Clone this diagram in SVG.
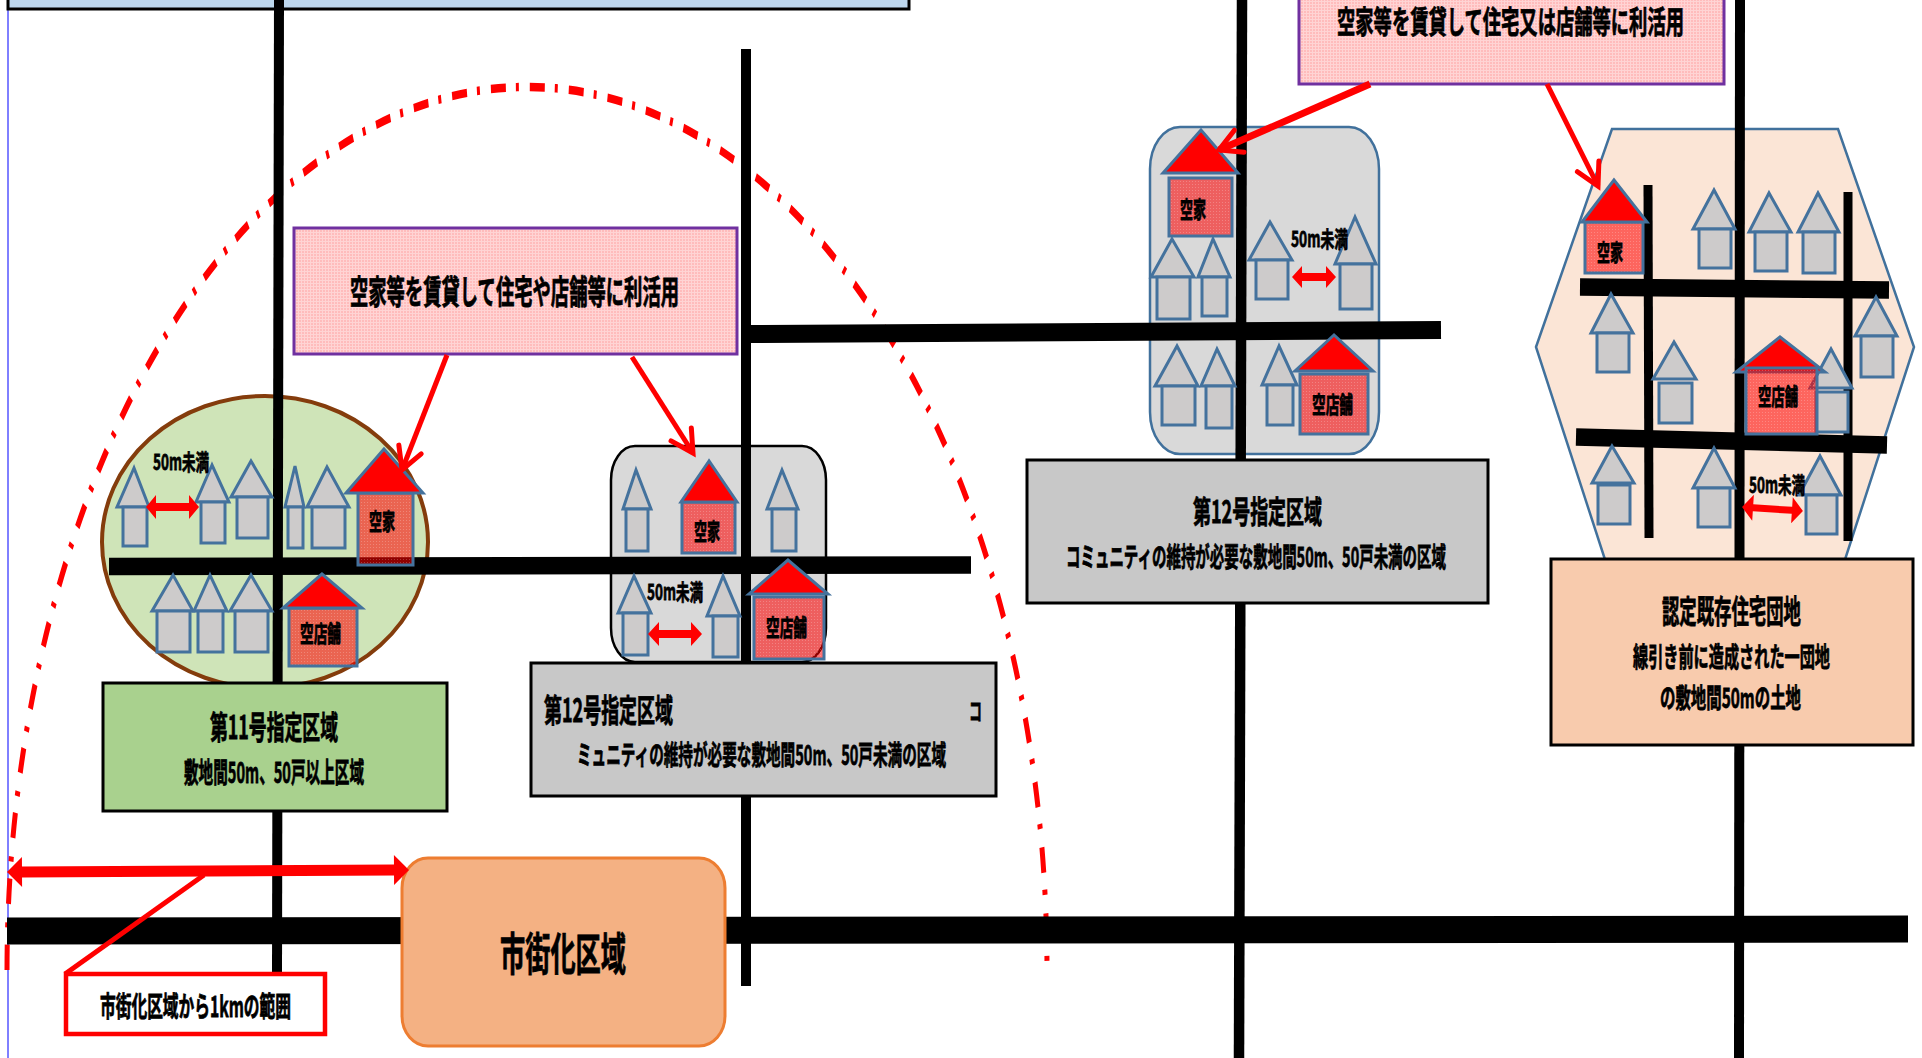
<svg xmlns="http://www.w3.org/2000/svg" width="1922" height="1058" viewBox="0 0 1922 1058">
<defs>
<style>
.road{stroke:#000;fill:none}
.roof{fill:#cdcbcb;stroke:#44729d;stroke-width:3;stroke-linejoin:miter}
.body{fill:#cdcbcb;stroke:#44729d;stroke-width:3}
.rroof{fill:#f00;stroke:#44729d;stroke-width:3}
.rbody{fill:url(#dotred);stroke:#44729d;stroke-width:3}
.pink{fill:url(#dotpink);stroke:#7030a0;stroke-width:3}
.box{stroke:#000;stroke-width:3}
.dbl{fill:#f00}
.arrow{stroke:#f00;fill:none;marker-end:url(#open)}
text{font-family:"Noto Sans CJK JP","Liberation Sans",sans-serif;font-weight:700;fill:#000;stroke:#000;stroke-width:.8}
</style>
<pattern id="dotred" width="3" height="3" patternUnits="userSpaceOnUse">
<rect width="3" height="3" fill="#f00" fill-opacity=".56"/>
<rect x="1" y="1" width="1" height="1" fill="#fff" fill-opacity=".22"/>
</pattern>
<pattern id="dotpink" width="3" height="3" patternUnits="userSpaceOnUse">
<rect width="3" height="3" fill="#ffbcbc"/>
<rect x="1" width="1" height="3" fill="#ffd4d4"/>
<rect y="1" width="3" height="1" fill="#ffd4d4"/>
</pattern>
<marker id="open" markerUnits="userSpaceOnUse" markerWidth="40" markerHeight="40" refX="30" refY="20" orient="auto" viewBox="0 0 40 40" overflow="visible">
<path d="M8 8L30 20L8 32" fill="none" stroke="#f00" stroke-width="5" stroke-linecap="round"/>
</marker>
</defs>
<rect width="1922" height="1058" fill="#fff"/>
<line x1="8" y1="0" x2="8" y2="1058" stroke="#00f" stroke-width="1"/>
<g id="top-box"><rect x="8" y="-20" width="901" height="29" fill="#bdd7ee" stroke="#000" stroke-width="3"/></g>

<g id="region-11"><ellipse cx="265" cy="542" rx="163" ry="146" fill="#cfe4b8" stroke="#843c0c" stroke-width="4"/></g>
<g id="region-12a"><rect x="611" y="446" width="215" height="216" rx="24" ry="34" fill="#d9d9d9" stroke="#000" stroke-width="2.5"/></g>
<g id="region-12b"><rect x="1150" y="127" width="229" height="327" rx="30" ry="42" fill="#d9d9d9" stroke="#41719c" stroke-width="2.5"/></g>
<g id="region-existing"><polygon points="1536,347 1612,129 1838,129 1914,347 1840,575 1610,575" fill="#fbe5d6" stroke="#41719c" stroke-width="2.5"/></g>

<g id="range-arc"><path transform="translate(527,970) scale(1,1.7)" d="M-520 0A520 520 0 0 1 519.97 -5" fill="none" stroke="#f00" stroke-width="5" stroke-dasharray="15 10 3 11"/></g>

<g id="roads">
<line class="road" stroke-width="10" x1="279" y1="0" x2="277" y2="972"/>
<line class="road" stroke-width="10" x1="746" y1="49" x2="746" y2="986"/>
<line class="road" stroke-width="10.5" x1="1242" y1="0" x2="1239" y2="1058"/>
<line class="road" stroke-width="10" x1="1740" y1="0" x2="1739" y2="1058"/>
<line class="road" stroke-width="17.5" x1="109" y1="566.500" x2="971" y2="565"/>
<line class="road" stroke-width="18" x1="748" y1="334" x2="1441" y2="330"/>
<line class="road" stroke-width="27" x1="7" y1="931" x2="1908" y2="929"/>
<line class="road" stroke-width="9" x1="1648" y1="185" x2="1649" y2="538"/>
<line class="road" stroke-width="9" x1="1848" y1="192" x2="1848" y2="541"/>
<line class="road" stroke-width="17.500" x1="1580" y1="287" x2="1889" y2="290"/>
<line class="road" stroke-width="17.500" x1="1576" y1="437" x2="1887" y2="445"/>
</g>

<g id="houses-11">
<g id="h11-1"><polygon class="roof" points="134,468 117,507 149,507"/><rect class="body" x="123" y="507" width="24" height="39"/></g>
<g id="h11-2"><polygon class="roof" points="212,465 196,502 229,502"/><rect class="body" x="201" y="502" width="24" height="41"/></g>
<g id="h11-3"><polygon class="roof" points="251,461 231,497 272,497"/><rect class="body" x="237" y="497" width="31" height="41"/></g>
<g id="h11-4"><polygon class="roof" points="295,466 285,507 304,507"/><rect class="body" x="288" y="507" width="15" height="41"/></g>
<g id="h11-5"><polygon class="roof" points="327,467 307,507 349,507"/><rect class="body" x="312" y="507" width="33" height="41"/></g>
<g id="h11-6"><polygon class="roof" points="173,575 152,611 193,611"/><rect class="body" x="157" y="611" width="33" height="41"/></g>
<g id="h11-7"><polygon class="roof" points="210,575 194,611 227,611"/><rect class="body" x="198" y="611" width="25" height="41"/></g>
<g id="h11-8"><polygon class="roof" points="251,575 230,611 272,611"/><rect class="body" x="235" y="611" width="33" height="41"/></g>
<g id="h11-vacant"><rect class="rbody" x="358" y="493" width="55" height="72"/><polygon class="rroof" points="384,449 346,493 423,493"/><text x="369" y="530" font-size="23" textLength="26" lengthAdjust="spacingAndGlyphs">空家</text></g>
<g id="h11-shop"><rect class="rbody" x="289" y="608" width="68" height="58"/><polygon class="rroof" points="322,574 283,608 362,608"/><text x="300" y="642" font-size="23" textLength="41" lengthAdjust="spacingAndGlyphs">空店舗</text></g>
<text x="153" y="470" font-size="22" textLength="56" lengthAdjust="spacingAndGlyphs">50m未満</text>
</g>

<g id="houses-12a">
<g id="h12a-1"><polygon class="roof" points="636,470 623,509 651,509"/><rect class="body" x="626" y="509" width="22" height="42"/></g>
<g id="h12a-2"><polygon class="roof" points="782,470 767,509 798,509"/><rect class="body" x="772" y="509" width="24" height="42"/></g>
<g id="h12a-3"><polygon class="roof" points="634,576 618,613 651,613"/><rect class="body" x="623" y="613" width="25" height="42"/></g>
<g id="h12a-4"><polygon class="roof" points="723,576 707,616 740,616"/><rect class="body" x="713" y="616" width="25" height="41"/></g>
<g id="h12a-vacant"><rect class="rbody" x="682" y="502" width="53" height="51"/><polygon class="rroof" points="709,461 681,502 737,502"/><text x="694" y="540" font-size="23" textLength="26" lengthAdjust="spacingAndGlyphs">空家</text></g>
<g id="h12a-shop"><rect class="rbody" x="754" y="597" width="70" height="62"/><polygon class="rroof" points="788,560 749,594 828,594"/><text x="766" y="636" font-size="23" textLength="41" lengthAdjust="spacingAndGlyphs">空店舗</text></g>
<text x="647" y="600" font-size="22" textLength="56" lengthAdjust="spacingAndGlyphs">50m未満</text>
</g>

<g id="houses-12b">
<g id="h12b-1"><polygon class="roof" points="1172,239 1151,277 1194,277"/><rect class="body" x="1157" y="277" width="33" height="42"/></g>
<g id="h12b-2"><polygon class="roof" points="1213,239 1198,277 1230,277"/><rect class="body" x="1202" y="277" width="25" height="39"/></g>
<g id="h12b-3"><polygon class="roof" points="1270,222 1249,260 1292,260"/><rect class="body" x="1256" y="260" width="32" height="39"/></g>
<g id="h12b-4"><polygon class="roof" points="1355,217 1335,264 1376,264"/><rect class="body" x="1340" y="264" width="32" height="45"/></g>
<g id="h12b-5"><polygon class="roof" points="1177,346 1155,386 1198,386"/><rect class="body" x="1162" y="386" width="33" height="39"/></g>
<g id="h12b-6"><polygon class="roof" points="1217,349 1201,386 1235,386"/><rect class="body" x="1206" y="386" width="26" height="42"/></g>
<g id="h12b-7"><polygon class="roof" points="1279,346 1262,385 1297,385"/><rect class="body" x="1267" y="385" width="26" height="40"/></g>
<g id="h12b-vacant"><rect class="rbody" x="1169" y="178" width="63" height="58"/><polygon class="rroof" points="1201,130 1163,173 1238,173"/><text x="1180" y="218" font-size="23" textLength="26" lengthAdjust="spacingAndGlyphs">空家</text></g>
<g id="h12b-shop"><rect class="rbody" x="1300" y="374" width="68" height="60"/><polygon class="rroof" points="1334,335 1295,371 1373,371"/><text x="1312" y="413" font-size="23" textLength="41" lengthAdjust="spacingAndGlyphs">空店舗</text></g>
<text x="1291" y="247" font-size="22" textLength="57" lengthAdjust="spacingAndGlyphs">50m未満</text>
</g>

<g id="houses-existing">
<g id="hx-1"><polygon class="roof" points="1714,190 1693,229 1735,229"/><rect class="body" x="1699" y="229" width="32" height="39"/></g>
<g id="hx-2"><polygon class="roof" points="1769,193 1749,232 1791,232"/><rect class="body" x="1755" y="232" width="32" height="39"/></g>
<g id="hx-3"><polygon class="roof" points="1818,193 1798,232 1839,232"/><rect class="body" x="1803" y="232" width="32" height="41"/></g>
<g id="hx-4"><polygon class="roof" points="1611,294 1591,333 1633,333"/><rect class="body" x="1597" y="333" width="32" height="39"/></g>
<g id="hx-5"><polygon class="roof" points="1876,297 1855,336 1897,336"/><rect class="body" x="1861" y="336" width="32" height="41"/></g>
<g id="hx-6"><polygon class="roof" points="1674,342 1653,379 1696,379"/><rect class="body" x="1659" y="383" width="33" height="40"/></g>
<g id="hx-7"><polygon class="roof" points="1831,349 1810,388 1852,388"/><rect class="body" x="1816" y="392" width="32" height="40"/></g>
<g id="hx-8"><polygon class="roof" points="1612,446 1592,483 1634,483"/><rect class="body" x="1598" y="485" width="32" height="39"/></g>
<g id="hx-9"><polygon class="roof" points="1714,448 1693,488 1735,488"/><rect class="body" x="1698" y="488" width="32" height="39"/></g>
<g id="hx-10"><polygon class="roof" points="1820,456 1799,495 1841,495"/><rect class="body" x="1806" y="495" width="31" height="39"/></g>
<g id="hx-vacant"><rect class="rbody" x="1585" y="222" width="58" height="51"/><polygon class="rroof" points="1614,180 1582,222 1647,222"/><text x="1597" y="261" font-size="23" textLength="26" lengthAdjust="spacingAndGlyphs">空家</text></g>
<g id="hx-shop"><polygon class="rroof" points="1780,337 1736,372 1825,372"/><rect class="rbody" x="1746" y="368" width="71" height="66"/><text x="1758" y="405" font-size="23" textLength="40" lengthAdjust="spacingAndGlyphs">空店舗</text></g>
<text x="1749" y="493" font-size="22" textLength="56" lengthAdjust="spacingAndGlyphs">50m未満</text>
</g>

<g id="callout-a"><rect class="pink" x="294" y="228" width="443" height="126"/><text x="350" y="304" font-size="33" textLength="329" lengthAdjust="spacingAndGlyphs">空家等を賃貸して住宅や店舗等に利活用</text></g>
<g id="callout-b"><rect class="pink" x="1299" y="-20" width="425" height="104"/><text x="1337" y="33" font-size="31" textLength="347" lengthAdjust="spacingAndGlyphs">空家等を賃貸して住宅又は店舗等に利活用</text></g>

<g id="box-11"><rect class="box" x="103" y="683" width="344" height="128" fill="#a9d18e"/>
<text x="210" y="739" font-size="32" textLength="128" lengthAdjust="spacingAndGlyphs">第11号指定区域</text>
<text x="184" y="783" font-size="28" textLength="180" lengthAdjust="spacingAndGlyphs">敷地間50m、50戸以上区域</text></g>
<g id="box-12a"><rect class="box" x="531" y="663" width="465" height="133" fill="#c8c8c8"/>
<text x="544" y="722" font-size="32" textLength="129" lengthAdjust="spacingAndGlyphs">第12号指定区域</text>
<text x="969" y="720" font-size="24" textLength="13" lengthAdjust="spacingAndGlyphs">コ</text>
<text x="577" y="765" font-size="27" textLength="369" lengthAdjust="spacingAndGlyphs">ミュニティの維持が必要な敷地間50m、50戸未満の区域</text></g>
<g id="box-12b"><rect class="box" x="1027" y="460" width="461" height="143" fill="#c8c8c8"/>
<text x="1193" y="523" font-size="31" textLength="129" lengthAdjust="spacingAndGlyphs">第12号指定区域</text>
<text x="1066" y="567" font-size="27" textLength="380" lengthAdjust="spacingAndGlyphs">コミュニティの維持が必要な敷地間50m、50戸未満の区域</text></g>
<g id="box-existing"><rect class="box" x="1551" y="559" width="362" height="186" fill="#f8cbad"/>
<text x="1662" y="623" font-size="32" textLength="139" lengthAdjust="spacingAndGlyphs">認定既存住宅団地</text>
<text x="1633" y="667" font-size="27" textLength="197" lengthAdjust="spacingAndGlyphs">線引き前に造成された一団地</text>
<text x="1660" y="708" font-size="27" textLength="141" lengthAdjust="spacingAndGlyphs">の敷地間50mの土地</text></g>
<g id="urban-area"><rect x="402" y="858" width="323" height="188" rx="26" ry="30" fill="#f4b183" stroke="#ed7d31" stroke-width="3"/>
<text x="500" y="971" font-size="45" textLength="126" lengthAdjust="spacingAndGlyphs">市街化区域</text></g>
<g id="range-label"><rect x="66" y="974" width="259" height="60" fill="#fff" stroke="#f00" stroke-width="4.5"/>
<text x="100" y="1017" font-size="28" textLength="191" lengthAdjust="spacingAndGlyphs">市街化区域から1kmの範囲</text></g>

<g id="connectors">
<line class="arrow" stroke-width="5" x1="447" y1="355" x2="402" y2="470"/>
<line class="arrow" stroke-width="5" x1="632" y1="357" x2="693" y2="453"/>
<line class="arrow" stroke-width="7" x1="1370" y1="84" x2="1219" y2="150"/>
<line class="arrow" stroke-width="5" x1="1547" y1="84" x2="1598" y2="186"/>
<polygon class="dbl" points="146,507 156,495 156,503 189,503 189,495 199,507 189,519 189,511 156,511 156,519"/>
<polygon class="dbl" points="648,634 659,622 659,630 691,630 691,622 702,634 691,646 691,638 659,638 659,646"/>
<polygon class="dbl" points="1292,277 1302,266 1302,273 1326,273 1326,266 1336,277 1326,288 1326,281 1302,281 1302,288"/>
<polygon class="dbl" transform="rotate(3.7 1772 509)" points="1742,509 1753,496 1753,505.500 1792,505.500 1792,496 1803,509 1792,522 1792,512.500 1753,512.500 1753,522"/>
<polygon class="dbl" transform="rotate(-.3 208 871)" points="7,871 22,856 22,865.500 394,865.500 394,856 409,871 394,886 394,876.500 22,876.500 22,886"/>
<line stroke="#f00" stroke-width="5" x1="204" y1="875" x2="65" y2="974"/>
</g>
</svg>
